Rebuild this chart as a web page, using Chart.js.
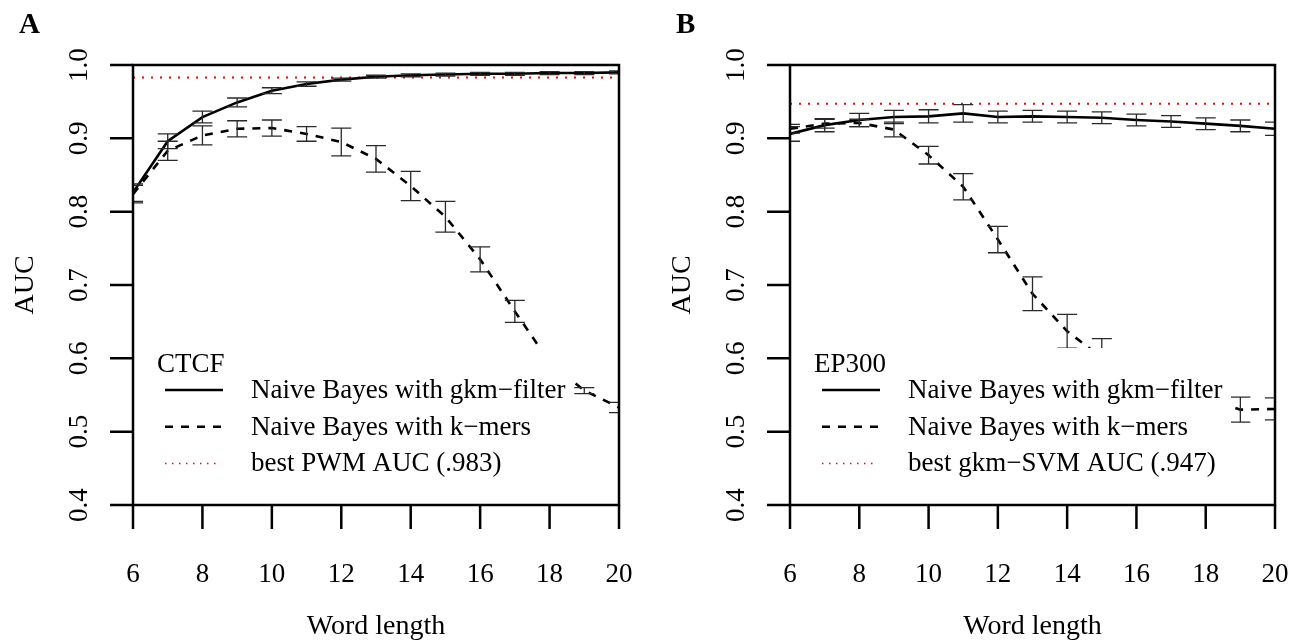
<!DOCTYPE html>
<html>
<head>
<meta charset="utf-8">
<script src="https://cdn.jsdelivr.net/npm/chart.js@4.4.1/dist/chart.umd.min.js"></script>
<style>
  html, body { margin: 0; padding: 0; background: #fff; }
  .panel { position: absolute; top: 0; width: 651px; height: 640px; }
</style>
</head>
<body>
<div class="panel" style="left:0"><canvas id="chartA" width="651" height="640"></canvas></div>
<div class="panel" style="left:651px"><canvas id="chartB" width="651" height="640"></canvas></div>
<script>
// word length on the x axis
const wordLength = [6, 7, 8, 9, 10, 11, 12, 13, 14, 15, 16, 17, 18, 19, 20];

// panel A: CTCF
const ctcfFilter    = [0.826, 0.896, 0.929, 0.949, 0.965, 0.974, 0.980, 0.984, 0.986, 0.987, 0.988, 0.988, 0.989, 0.989, 0.990];
const ctcfFilterErr = [0.012, 0.010, 0.008, 0.006, 0.004, 0.003, 0.002, 0.002, 0.002, 0.002, 0.002, 0.002, 0.002, 0.002, 0.002];
const ctcfKmers     = [0.824, 0.883, 0.904, 0.913, 0.914, 0.906, 0.895, 0.872, 0.835, 0.793, 0.735, 0.664, 0.595, 0.556, 0.533];
const ctcfKmersErr  = [0.012, 0.013, 0.013, 0.011, 0.011, 0.010, 0.019, 0.018, 0.020, 0.021, 0.017, 0.015, 0.015, 0.004, 0.007];
const ctcfPwm = 0.983;

// panel B: EP300
const ep300Filter    = [0.906, 0.918, 0.925, 0.929, 0.930, 0.934, 0.929, 0.930, 0.929, 0.928, 0.925, 0.923, 0.920, 0.917, 0.913];
const ep300FilterErr = [0.010, 0.009, 0.009, 0.009, 0.009, 0.012, 0.008, 0.008, 0.008, 0.008, 0.008, 0.008, 0.008, 0.008, 0.009];
const ep300Kmers     = [0.913, 0.920, 0.921, 0.912, 0.877, 0.834, 0.762, 0.688, 0.637, 0.601, 0.578, 0.560, 0.545, 0.530, 0.531];
const ep300KmersErr  = [0.006, 0.006, 0.005, 0.010, 0.012, 0.018, 0.018, 0.023, 0.023, 0.026, 0.020, 0.020, 0.020, 0.017, 0.015];
const ep300Svm = 0.947;

// axes
const xTicks = [6, 8, 10, 12, 14, 16, 18, 20];
const yTicks = [0.4, 0.5, 0.6, 0.7, 0.8, 0.9, 1.0];
const yTickLabels = ['0.4', '0.5', '0.6', '0.7', '0.8', '0.9', '1.0'];
const xTitle = 'Word length';
const yTitle = 'AUC';

const serif = '"Liberation Serif", "Times New Roman", serif';

// draws everything R-style: error bars, legend, box, axes, titles
const rPlot = {
  id: 'rPlot',
  beforeDraw(chart) {
    const ctx = chart.ctx;
    ctx.save();
    ctx.fillStyle = '#fff';
    ctx.fillRect(0, 0, chart.width, chart.height);
    ctx.restore();
  },
  afterDatasetsDraw(chart, args, opts) {
    const ctx = chart.ctx, a = chart.chartArea;
    const xs = chart.scales.x, ys = chart.scales.y;
    const ds = chart.data.datasets;

    // error bars, clipped to plot region
    ctx.save();
    ctx.beginPath();
    ctx.rect(a.left, a.top, a.right - a.left, a.bottom - a.top);
    ctx.clip();
    ctx.strokeStyle = '#2a2a2a';
    ctx.lineWidth = 1.3;
    opts.errors.forEach(eb => {
      eb.mean.forEach((m, i) => {
        const px = xs.getPixelForValue(wordLength[i]);
        const lo = ys.getPixelForValue(m - eb.err[i]);
        const hi = ys.getPixelForValue(m + eb.err[i]);
        ctx.beginPath();
        ctx.moveTo(px, lo); ctx.lineTo(px, hi);
        ctx.moveTo(px - 10, lo); ctx.lineTo(px + 10, lo);
        ctx.moveTo(px - 10, hi); ctx.lineTo(px + 10, hi);
        ctx.stroke();
      });
    });
    ctx.restore();

    // legend with white background
    ctx.save();
    ctx.fillStyle = '#fff';
    ctx.fillRect(a.left + 8, a.top + 283, 433, a.bottom - a.top - 284);
    ctx.fillStyle = '#000';
    ctx.font = '27px ' + serif;
    ctx.textBaseline = 'alphabetic';
    ctx.textAlign = 'left';
    ctx.fillText(opts.legendTitle, a.left + 24, a.top + 307);
    ds.forEach((d, i) => {
      const ly = a.top + 325 + i * 36.7;
      ctx.save();
      ctx.strokeStyle = d.borderColor;
      ctx.lineWidth = i === 2 ? 1.5 : d.borderWidth;
      ctx.setLineDash(i === 2 ? [1.5, 5.5] : (d.borderDash || []));
      ctx.beginPath();
      ctx.moveTo(a.left + 32, ly);
      ctx.lineTo(a.left + (i === 2 ? 84 : 90), ly);
      ctx.stroke();
      ctx.restore();
      ctx.fillText(d.label, a.left + 118, ly + 8);
    });
    ctx.restore();

    // box
    ctx.save();
    ctx.strokeStyle = '#000';
    ctx.lineWidth = 2.5;
    ctx.strokeRect(a.left, a.top, a.right - a.left, a.bottom - a.top);

    // ticks
    ctx.beginPath();
    xTicks.forEach(t => {
      const px = xs.getPixelForValue(t);
      ctx.moveTo(px, a.bottom); ctx.lineTo(px, a.bottom + 24);
    });
    yTicks.forEach(t => {
      const py = ys.getPixelForValue(t);
      ctx.moveTo(a.left, py); ctx.lineTo(a.left - 23, py);
    });
    ctx.stroke();

    // tick labels
    ctx.fillStyle = '#000';
    ctx.font = '27px ' + serif;
    ctx.textAlign = 'center';
    ctx.textBaseline = 'alphabetic';
    xTicks.forEach(t => ctx.fillText(String(t), xs.getPixelForValue(t), a.bottom + 77));
    yTicks.forEach((t, i) => {
      ctx.save();
      ctx.translate(a.left - 46, ys.getPixelForValue(t));
      ctx.rotate(-Math.PI / 2);
      ctx.fillText(yTickLabels[i], 0, 0);
      ctx.restore();
    });

    // axis titles
    ctx.font = '28px ' + serif;
    ctx.fillText(xTitle, (a.left + a.right) / 2, a.bottom + 129);
    ctx.save();
    ctx.translate(a.left - 100, (a.top + a.bottom) / 2);
    ctx.rotate(-Math.PI / 2);
    ctx.fillText(yTitle, 0, 0);
    ctx.restore();

    // panel letter
    ctx.font = 'bold 29px ' + serif;
    ctx.textAlign = 'left';
    ctx.fillText(opts.letter, a.left - 114, 33);
    ctx.restore();
  }
};

function makePanel(id, letter, title, filter, filterErr, kmers, kmersErr, ref, refLabel, padRight) {
  const pts = arr => arr.map((v, i) => ({ x: wordLength[i], y: v }));
  return new Chart(document.getElementById(id), {
    type: 'line',
    data: {
      datasets: [{
        label: 'Naive Bayes with gkm\u2212filter',
        data: pts(filter),
        borderColor: '#000',
        borderWidth: 2.6,
        pointRadius: 0,
        tension: 0,
        clip: 0
      }, {
        label: 'Naive Bayes with k\u2212mers',
        data: pts(kmers),
        borderColor: '#000',
        borderWidth: 2.6,
        borderDash: [8, 8],
        pointRadius: 0,
        tension: 0,
        clip: 0
      }, {
        label: refLabel,
        data: [{ x: 6, y: ref }, { x: 20, y: ref }],
        borderColor: '#ff0000',
        borderWidth: 2,
        borderDash: [2, 7],
        pointRadius: 0,
        clip: 0
      }]
    },
    options: {
      responsive: false,
      animation: false,
      devicePixelRatio: 1,
      layout: { padding: { left: id === 'chartA' ? 133 : 139, right: padRight, top: 65, bottom: 135 } },
      scales: {
        x: { type: 'linear', min: 6, max: 20, display: false },
        y: { type: 'linear', min: 0.4, max: 1.0, display: false }
      },
      plugins: {
        legend: { display: false },
        tooltip: { enabled: false },
        rPlot: {
          letter: letter,
          legendTitle: title,
          errors: [{ mean: filter, err: filterErr }, { mean: kmers, err: kmersErr }]
        }
      }
    },
    plugins: [rPlot]
  });
}

makePanel('chartA', 'A', 'CTCF', ctcfFilter, ctcfFilterErr, ctcfKmers, ctcfKmersErr,
  ctcfPwm, 'best PWM AUC (.983)', 32);
makePanel('chartB', 'B', 'EP300', ep300Filter, ep300FilterErr, ep300Kmers, ep300KmersErr,
  ep300Svm, 'best gkm\u2212SVM AUC (.947)', 27);
</script>
</body>
</html>
